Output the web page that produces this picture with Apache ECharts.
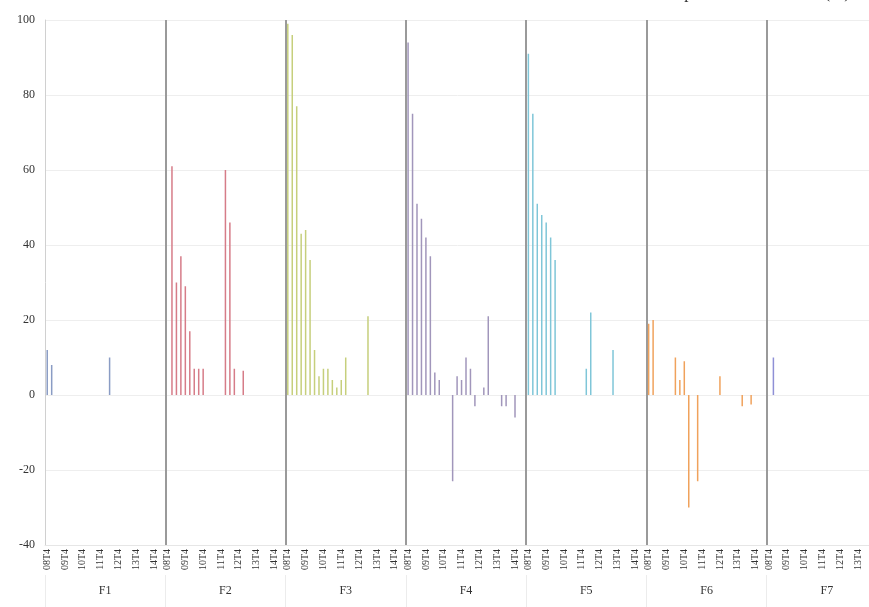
<!DOCTYPE html>
<html>
<head>
<meta charset="utf-8">
<script src="https://cdn.jsdelivr.net/npm/echarts@6/dist/echarts.min.js"></script>
<style>html,body{margin:0;padding:0;background:#fff}#c{width:869px;height:607px}</style>
</head>
<body>
<div id="c"></div>
<script>
// Groups and quarters (08T4 .. 15T2)
var groups = ['F1', 'F2', 'F3', 'F4', 'F5', 'F6', 'F7'];
var quarters = ['08T4',
  '09T1','09T2','09T3','09T4',
  '10T1','10T2','10T3','10T4',
  '11T1','11T2','11T3','11T4',
  '12T1','12T2','12T3','12T4',
  '13T1','13T2','13T3','13T4',
  '14T1','14T2','14T3','14T4',
  '15T1','15T2'];
var yTicks = [-40, -20, 0, 20, 40, 60, 80, 100];

// Values per group, one per quarter
var valuesF1 = [12, 8, 0, 0, 0, 0, 0, 0, 0, 0, 0, 0, 0, 0, 10, 0, 0, 0, 0, 0, 0, 0, 0, 0, 0, 0, 0];
var valuesF2 = [0, 61, 30, 37, 29, 17, 7, 7, 7, 0, 0, 0, 0, 60, 46, 7, 0, 6.5, 0, 0, 0, 0, 0, 0, 0, 0, 0];
var valuesF3 = [99, 96, 77, 43, 44, 36, 12, 5, 7, 7, 4, 2, 4, 10, 0, 0, 0, 0, 21, 0, 0, 0, 0, 0, 0, 0, 0];
var valuesF4 = [94, 75, 51, 47, 42, 37, 6, 4, 0, 0, -23, 5, 4, 10, 7, -3, 0, 2, 21, 0, 0, -3, -3, 0, -6, 0, 0];
var valuesF5 = [91, 75, 51, 48, 46, 42, 36, 0, 0, 0, 0, 0, 0, 7, 22, 0, 0, 0, 0, 12, 0, 0, 0, 0, 0, 0, 0];
var valuesF6 = [19, 20, 0, 0, 0, 0, 10, 4, 9, -30, 0, -23, 0, 0, 0, 0, 5, 0, 0, 0, 0, -3, 0, -2.5, 0, 0, 0];
var valuesF7 = [0, 10, 0, 0, 0, 0, 0, 0, 0, 0, 0, 0, 0, 0, 0, 0, 0, 0, 0, 0, 0, 0, 0, 0, 0, 0, 0];

var groupValues = [valuesF1, valuesF2, valuesF3, valuesF4, valuesF5, valuesF6, valuesF7];
var groupColors = ['#8a9cc4', '#d67c88', '#c6cf7c', '#a196bb', '#7fc6d8', '#f0a25c', '#8f90d6'];

var cats = [];
groups.forEach(function (g) { quarters.forEach(function (q) { cats.push(g + '|' + q); }); });

var series = groups.map(function (g, gi) {
  var d = [];
  groups.forEach(function (g2, gj) {
    quarters.forEach(function (q, qi) { d.push(gj === gi ? groupValues[gi][qi] : null); });
  });
  return {
    name: g, type: 'bar', data: d, xAxisIndex: 0, barWidth: 1.5, barGap: '-100%',
    itemStyle: { color: groupColors[gi] }, silent: true
  };
});

var serif = '"Liberation Serif", "DejaVu Serif", serif';
var chart = echarts.init(document.getElementById('c'), null, { renderer: 'canvas' });
chart.setOption({
  animation: false,
  backgroundColor: '#fff',
  grid: { left: 45, width: 842, top: 20, bottom: 62, containLabel: false, outerBoundsMode: 'none' },
  graphic: [{
    type: 'text', x: 850, y: 2,
    style: { text: 'pour mille habitants (%)', align: 'right', verticalAlign: 'bottom',
             font: '17px ' + serif, fill: '#333' }
  }],
  xAxis: [{
    type: 'category', data: cats, boundaryGap: true, position: 'bottom',
    axisLine: { onZero: false, lineStyle: { color: '#e6e6e6' } },
    axisTick: { show: false },
    splitLine: { show: false },
    axisLabel: {
      interval: function (i, v) { return v.split('|')[1].slice(2) === 'T4'; },
      formatter: function (v) { return v.split('|')[1]; },
      rotate: 90, fontFamily: serif, fontSize: 10, color: '#333', margin: 4
    }
  }, {
    type: 'category', data: groups, boundaryGap: true, position: 'bottom', offset: 30,
    axisLine: { show: false, onZero: false },
    axisTick: { show: true, interval: 0, length: 34, lineStyle: { color: '#ececec' } },
    splitLine: {
      show: true, interval: function (i) { return i > 0; },
      lineStyle: { color: '#9a9a9a', width: 2 }
    },
    axisLabel: { interval: 0, fontFamily: serif, fontSize: 12, color: '#333', margin: 10 }
  }],
  yAxis: {
    type: 'value', min: yTicks[0], max: yTicks[yTicks.length - 1], interval: 20,
    axisLine: { show: true, lineStyle: { color: '#d0d0d0' } },
    axisTick: { show: false },
    splitLine: { lineStyle: { color: '#eeeeee' } },
    axisLabel: { fontFamily: serif, fontSize: 12, color: '#333', margin: 10 }
  },
  series: series
});
</script>
</body>
</html>
